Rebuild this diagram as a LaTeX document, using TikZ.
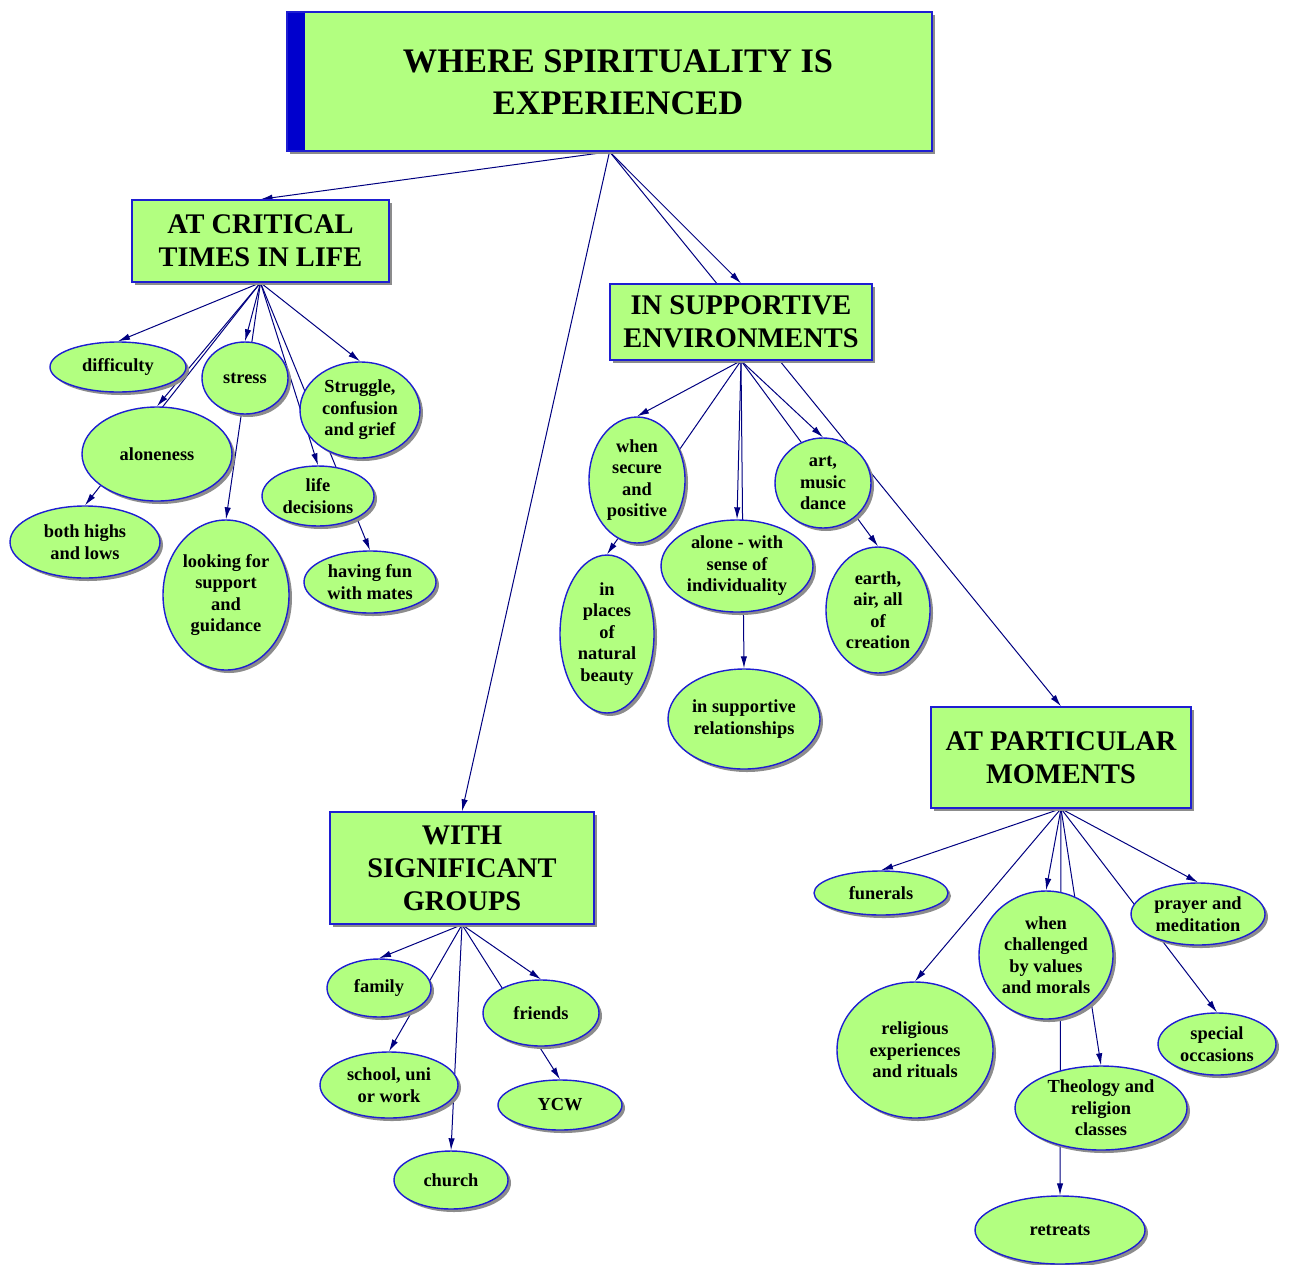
\documentclass[tikz,border=0pt]{standalone}
\usepackage{fontspec}
\setmainfont{Liberation Serif}
\usetikzlibrary{arrows.meta, shapes.geometric, shadows}
\pgfdeclarelayer{back}
\pgfsetlayers{back,main}
\definecolor{leaf}{RGB}{178,255,128}
\definecolor{rim}{RGB}{30,30,210}
\definecolor{bar}{RGB}{0,0,205}
\definecolor{wire}{RGB}{0,0,128}

\begin{document}
\begin{tikzpicture}[x=0.5pt, y=-0.5pt,
    castshadow/.style={drop shadow={shadow xshift=1.5pt, shadow yshift=-1.5pt, fill=black!45, opacity=1}},
    catbox/.style={rectangle, draw=rim, line width=0.7pt, fill=leaf, castshadow, inner sep=0pt, align=center,
        font=\fontsize{14.2}{16.5}\selectfont\bfseries},
    bub/.style={ellipse, draw=rim, line width=0.7pt, fill=leaf, castshadow, inner sep=0pt, align=center,
        font=\fontsize{9.2}{10.75}\selectfont\bfseries},
    link/.style={wire, line width=0.5pt, -{Latex[length=6pt,width=3.2pt]}}]
    \useasboundingbox (0,0) rectangle (1289,1264);

    % title
    \node[catbox, minimum width=322.5pt, minimum height=69.5pt,
        path picture={\fill[bar] (path picture bounding box.north west) rectangle ([xshift=9pt]path picture bounding box.south west);}]
        (main) at (609.5,81.5) {};
    \node[font=\fontsize{17.2}{21}\selectfont\bfseries, align=center] (main-text) at (618,82) {WHERE SPIRITUALITY IS\\EXPERIENCED};

    % the four places
    \node[catbox, minimum width=128.5pt, minimum height=41pt] (crit) at (260.5,241) {AT CRITICAL\\TIMES IN LIFE};
    \node[catbox, minimum width=131pt, minimum height=38pt] (supp) at (741,322) {IN SUPPORTIVE\\ENVIRONMENTS};
    \node[catbox, minimum width=130pt, minimum height=50.5pt] (part) at (1061,757.5) {AT PARTICULAR\\MOMENTS};
    \node[catbox, minimum width=132pt, minimum height=56pt] (grp) at (462,868) {WITH\\SIGNIFICANT\\GROUPS};

    % critical times
    \node[bub, minimum width=68pt, minimum height=25pt] (diff) at (118,367) {difficulty};
    \node[bub, minimum width=43pt, minimum height=36pt] (stress) at (245,378) {stress};
    \node[bub, minimum width=60pt, minimum height=48pt] (strug) at (360,410) {Struggle,\\confusion\\and grief};
    \node[bub, minimum width=75pt, minimum height=47pt] (alone) at (157,454) {aloneness};
    \node[bub, minimum width=56pt, minimum height=30pt] (lifed) at (318,496) {life\\decisions};
    \node[bub, minimum width=75pt, minimum height=36pt] (highs) at (85,542) {both highs\\and lows};
    \node[bub, minimum width=63pt, minimum height=75pt] (look) at (226,595) {looking for\\support\\and\\guidance};
    \node[bub, minimum width=66pt, minimum height=31pt] (fun) at (370,582) {having fun\\with mates};

    % supportive environments
    \node[bub, minimum width=48pt, minimum height=63pt] (secure) at (637,480) {when\\secure\\and\\positive};
    \node[bub, minimum width=76pt, minimum height=46pt] (alonew) at (737,566) {alone - with\\sense of\\individuality};
    \node[bub, minimum width=48pt, minimum height=45pt] (art) at (823,483) {art,\\music\\dance};
    \node[bub, minimum width=47pt, minimum height=79pt] (natural) at (607,634) {in\\places\\of\\natural\\beauty};
    \node[bub, minimum width=52pt, minimum height=63pt] (earth) at (878,610) {earth,\\air, all\\of\\creation};
    \node[bub, minimum width=76pt, minimum height=50pt] (rel) at (744,719) {in supportive\\relationships};

    % significant groups
    \node[bub, minimum width=52pt, minimum height=29pt] (family) at (379,988) {family};
    \node[bub, minimum width=58pt, minimum height=33pt] (friends) at (541,1013) {friends};
    \node[bub, minimum width=69pt, minimum height=33pt] (school) at (389,1085) {school, uni\\or work};
    \node[bub, minimum width=62pt, minimum height=25pt] (ycw) at (560,1105) {YCW};
    \node[bub, minimum width=57pt, minimum height=29pt] (church) at (451,1180) {church};

    % particular moments
    \node[bub, minimum width=67pt, minimum height=22pt] (funer) at (881,893) {funerals};
    \node[bub, minimum width=67pt, minimum height=64pt] (chall) at (1046,955) {when\\challenged\\by values\\and morals};
    \node[bub, minimum width=67pt, minimum height=31pt] (prayer) at (1198,914) {prayer and\\meditation};
    \node[bub, minimum width=78pt, minimum height=68pt] (relig) at (915,1050) {religious\\experiences\\and rituals};
    \node[bub, minimum width=59pt, minimum height=31pt] (special) at (1217,1044) {special\\occasions};
    \node[bub, minimum width=86pt, minimum height=42pt] (theo) at (1101,1108) {Theology and\\religion\\classes};
    \node[bub, minimum width=85pt, minimum height=34pt] (retreats) at (1060,1230) {retreats};

    % links run behind the bubbles
    \begin{pgfonlayer}{back}
        \foreach \kid in {crit, supp, part, grp}
            \draw[link] (main.south) -- (\kid.north);
        \foreach \kid in {diff, stress, strug, alone, lifed, highs, look, fun}
            \draw[link] (crit.south) -- (\kid.north);
        \foreach \kid in {secure, natural, alonew, rel, art, earth}
            \draw[link] (supp.south) -- (\kid.north);
        \foreach \kid in {family, school, church, friends, ycw}
            \draw[link] (grp.south) -- (\kid.north);
        \foreach \kid in {funer, relig, chall, theo, retreats, prayer, special}
            \draw[link] (part.south) -- (\kid.north);
    \end{pgfonlayer}
\end{tikzpicture}
\end{document}
